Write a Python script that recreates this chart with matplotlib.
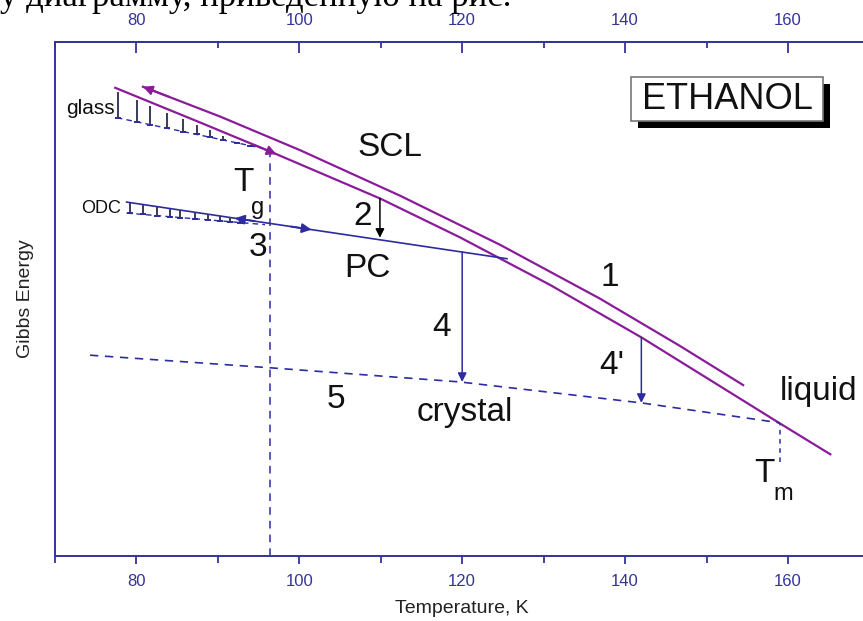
import numpy as np
import matplotlib.pyplot as plt
from matplotlib.patches import Rectangle

plt.rcParams['font.family'] = ['Liberation Sans', 'DejaVu Sans']

# temperature in K, Gibbs energy in arbitrary units
scl_T = [77.4, 87.8, 96.8, 109.9, 119.7, 130.8, 142.0, 150.4, 159.0, 165.2]
scl_G = [91.2, 84.6, 78.8, 70.1, 62.7, 53.6, 43.6, 35.5, 27.2, 21.3]

heat_T = [80.8, 90.3, 100.1, 112.4, 124.6, 136.9, 146.7, 154.5]
heat_G = [91.4, 85.7, 79.3, 70.6, 61.3, 51.0, 42.0, 34.5]

pc_T = [78.8, 125.5]
pc_G = [69.4, 58.6]

cryst_T = [74.3, 96.4, 119.7, 142.0, 159.0]
cryst_G = [40.2, 37.8, 35.1, 31.1, 27.3]

glass_low_T = [77.6, 95.4]
glass_low_G = [85.5, 79.7]
glass_hatch_T = [77.7, 80.1, 81.7, 83.8, 85.7, 87.4, 89.0, 90.6, 92.4, 93.9]

odc_low_T = [78.8, 95.8]
odc_low_G = [67.3, 65.1]
odc_hatch_T = [79.2, 80.8, 82.5, 84.1, 85.3, 87.2, 88.8, 90.3, 91.5, 92.7]

T_g = 96.4
T_m = 159.0
T_m_low = 19.8

# transitions: (T, G start, G end)
arrow2 = (109.9, 70.1, 62.6)
arrow4 = (120.0, 59.9, 35.1)
arrow4p = (142.0, 43.6, 31.1)

major_ticks = [80, 100, 120, 140, 160]
minor_ticks = [70, 90, 110, 130, 150, 170]

purple = '#8a1c9a'
blue = '#2c2ca0'
axcol = '#34349a'
hatchcol = '#3a3a58'

fig = plt.figure(figsize=(8.63, 6.21), dpi=100)
ax = fig.add_axes([0.0637, 0.1047, 0.9437, 0.8282])
ax.set_xlim(70, 170)
ax.set_ylim(1.9, 100)

# curves
ax.plot(heat_T, heat_G, color=purple, lw=1.6)
ax.plot(scl_T, scl_G, color=purple, lw=1.6)
ax.plot(pc_T, pc_G, color=blue, lw=1.2)
ax.plot(cryst_T, cryst_G, color=blue, lw=1.2, ls=(0, (5, 4)))

# glass hatching
ax.plot(glass_low_T, glass_low_G, color=blue, lw=1.0, ls=(0, (4, 3)))
g_top = np.interp(glass_hatch_T, scl_T, scl_G) - 0.7
g_bot = np.interp(glass_hatch_T, glass_low_T, glass_low_G)
ax.vlines(glass_hatch_T, g_bot, g_top, color=hatchcol, lw=1.4)
ax.plot(glass_hatch_T, g_bot, ls='none', marker='_', ms=5, color=blue, mew=1.4)

# ODC hatching
ax.plot(odc_low_T, odc_low_G, color=blue, lw=1.0, ls=(0, (4, 3)))
o_top = np.interp(odc_hatch_T, pc_T, pc_G)
o_bot = np.interp(odc_hatch_T, odc_low_T, odc_low_G)
ax.vlines(odc_hatch_T, o_bot, o_top, color=hatchcol, lw=1.4)
ax.plot(odc_hatch_T, o_bot, ls='none', marker='_', ms=5, color=blue, mew=1.4)

# Tg and Tm verticals
ax.plot([T_g, T_g], [1.9, np.interp(T_g, scl_T, scl_G)], color=blue, lw=1.1, ls=(0, (5, 4)))
ax.plot([T_m, T_m], [T_m_low, np.interp(T_m, cryst_T, cryst_G)], color=blue, lw=1.1, ls=(0, (3, 3)))

# direction arrows on the curves
def head(xs, ys, t_from, t_to, col):
    ax.annotate('', xy=(t_to, np.interp(t_to, xs, ys)),
                xytext=(t_from, np.interp(t_from, xs, ys)),
                arrowprops=dict(arrowstyle='-|>', color=col, lw=1.4,
                                mutation_scale=14, shrinkA=0, shrinkB=0))

head(heat_T, heat_G, 84.0, 80.8, purple)
head(scl_T, scl_G, 94.5, 97.2, purple)
head(pc_T, pc_G, 94.5, 92.1, blue)
head(pc_T, pc_G, 99.0, 101.5, blue)

# vertical transition arrows
for (t, g0, g1), col in [(arrow2, 'black'), (arrow4, blue), (arrow4p, blue)]:
    ax.annotate('', xy=(t, g1), xytext=(t, g0),
                arrowprops=dict(arrowstyle='-|>', color=col, lw=1.1,
                                mutation_scale=13, shrinkA=0, shrinkB=0))

txt = dict(color='#111111', ha='center', va='center')
big = 24
ax.text(74.4, 87.3, 'glass', fontsize=15, **txt)
ax.text(75.6, 68.2, 'ODC', fontsize=13, **txt)
ax.text(111.1, 79.9, 'SCL', fontsize=big, **txt)
ax.text(93.1, 73.2, 'T', fontsize=big, **txt)
ax.text(94.9, 68.3, 'g', fontsize=17, **txt)
ax.text(107.8, 66.6, '2', fontsize=big, **txt)
ax.text(94.9, 60.8, '3', fontsize=big, **txt)
ax.text(108.4, 56.8, 'PC', fontsize=big, **txt)
ax.text(117.5, 45.4, '4', fontsize=big, **txt)
ax.text(138.1, 55.1, '1', fontsize=big, **txt)
ax.text(138.4, 38.3, "4'", fontsize=big, **txt)
ax.text(104.5, 31.7, '5', fontsize=big, **txt)
ax.text(120.3, 29.2, 'crystal', fontsize=big, **txt)
ax.text(163.8, 33.2, 'liquid', fontsize=big, **txt)
ax.text(157.1, 17.7, 'T', fontsize=big, **txt)
ax.text(159.4, 13.7, 'm', fontsize=17, **txt)

# ETHANOL label with drop shadow
ax.add_patch(Rectangle((0.7159, 0.8322), 0.2358, 0.0856, transform=ax.transAxes,
                       fc='black', ec='none', zorder=4))
ax.add_patch(Rectangle((0.7073, 0.8458), 0.2358, 0.0856, transform=ax.transAxes,
                       fc='white', ec='#777777', lw=1.2, zorder=5))
ax.text(0.8252, 0.8866, 'ETHANOL', transform=ax.transAxes, fontsize=26,
        ha='center', va='center', color='#111111', zorder=6)

# axes styling
for s in ax.spines.values():
    s.set_color(axcol)
    s.set_linewidth(1.4)
ax.set_yticks([])
ax.set_xticks(major_ticks)
ax.set_xticks(minor_ticks, minor=True)
ax.tick_params(axis='x', which='both', colors=axcol, labelsize=12, top=False,
               direction='out', width=1.3)
ax.tick_params(axis='x', which='major', length=6, pad=7)
ax.tick_params(axis='x', which='minor', length=5)

top = ax.secondary_xaxis('top')
top.set_xticks(major_ticks)
top.set_xticks(minor_ticks, minor=True)
top.tick_params(which='both', direction='in', colors=axcol, labelsize=12, width=1.3)
top.tick_params(which='major', length=8, pad=10)
top.tick_params(which='minor', length=4)
top.spines['top'].set_color(axcol)
top.spines['top'].set_linewidth(1.4)

ax.set_xlabel('Temperature, K', fontsize=14, color='#222222', labelpad=8)
ax.set_ylabel('Gibbs Energy', fontsize=14, color='#222222', labelpad=15)

# line of the surrounding document, cut by the top edge
fig.text(0.0, 1 - 6 / 621, 'у диаграмму, приведенную на рис.', fontsize=25,
         family=['Liberation Serif', 'DejaVu Serif'], va='baseline', ha='left', color='black')

fig.savefig('out.png', dpi=100)
